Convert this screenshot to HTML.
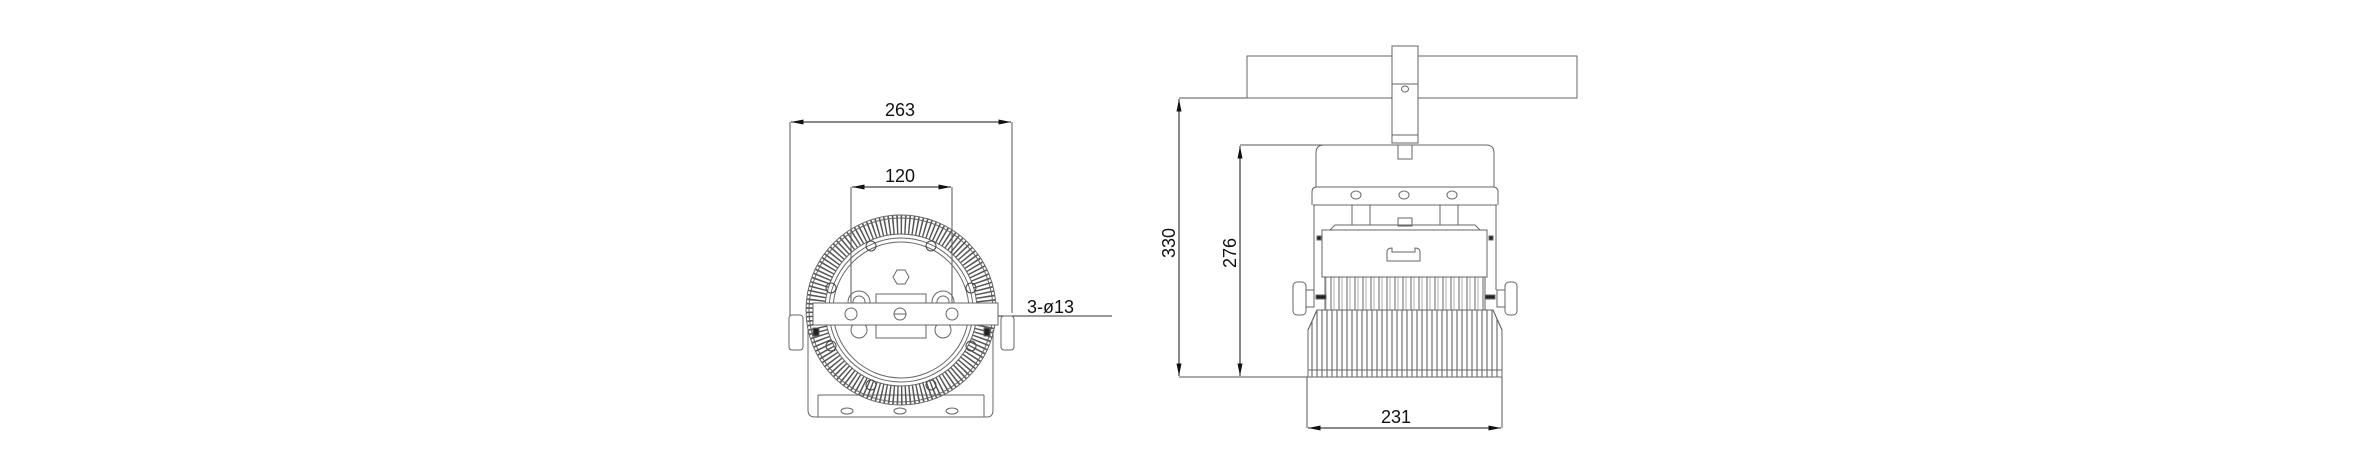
<!DOCTYPE html>
<html><head><style>html,body{margin:0;padding:0;background:#fff;}svg{display:block}</style></head>
<body>
<svg width="2363" height="473" viewBox="0 0 2363 473" xmlns="http://www.w3.org/2000/svg">
<defs>
<marker id="a" viewBox="0 0 10 4" refX="10" refY="2" markerWidth="14" markerHeight="5" orient="auto-start-reverse" markerUnits="userSpaceOnUse"><path d="M0,0L10,2L0,4z" fill="#111"/></marker>
<pattern id="fins" width="5" height="10" patternUnits="userSpaceOnUse"><line x1="2" y1="0" x2="2" y2="10" stroke="#555" stroke-width="1"/></pattern>
<pattern id="fins2" width="8" height="10" patternUnits="userSpaceOnUse"><line x1="3" y1="0" x2="3" y2="10" stroke="#666" stroke-width="1"/><line x1="6" y1="0" x2="6" y2="10" stroke="#888" stroke-width="0.7"/></pattern>
</defs>
<g font-family="Liberation Sans, sans-serif" font-size="18" fill="#111">
<!-- Front view dims -->
<g stroke="#555" stroke-width="1" fill="none">
<line x1="790" y1="122" x2="790" y2="350"/><line x1="1012" y1="122" x2="1012" y2="313"/>
<line x1="851" y1="187" x2="851" y2="313"/><line x1="952" y1="187" x2="952" y2="313"/>
</g>
<line x1="791" y1="122" x2="1011" y2="122" stroke="#111" marker-start="url(#a)" marker-end="url(#a)"/>
<line x1="852" y1="187" x2="951" y2="187" stroke="#111" marker-start="url(#a)" marker-end="url(#a)"/>
<text x="900" y="116" text-anchor="middle">263</text>
<text x="900" y="182" text-anchor="middle">120</text>
<line x1="1112" y1="316" x2="960" y2="316" stroke="#333" marker-end="url(#a)"/>
<text x="1027" y="313">3-ø13</text>

<!-- Front view body -->
<g stroke="#666" stroke-width="1" fill="none">
<path d="M808,330 V410 Q808,417 815,417 H987 Q993,417 993,410 V330"/>
<line x1="818" y1="395" x2="984" y2="395"/>
<line x1="818" y1="395" x2="818" y2="417"/><line x1="984" y1="395" x2="984" y2="417"/>
<ellipse cx="847" cy="411" rx="6" ry="3"/><ellipse cx="900" cy="411" rx="6" ry="3"/><ellipse cx="952" cy="411" rx="6" ry="3"/>
<circle cx="901" cy="310" r="85" stroke="#555" stroke-width="19" stroke-dasharray="1.5 2.5"/>
<circle cx="901" cy="310" r="95"/>
<circle cx="901" cy="310" r="92"/>
<circle cx="901" cy="310" r="76"/>
<circle cx="901" cy="310" r="72"/>
<circle cx="901" cy="310" r="68"/>
<g stroke="#444">
<circle cx="871" cy="246" r="5"/><circle cx="931" cy="246" r="5"/>
<circle cx="831" cy="288" r="5"/><circle cx="971" cy="288" r="5"/>
<circle cx="831" cy="346" r="5"/><circle cx="971" cy="346" r="5"/>
<circle cx="871" cy="385" r="5"/><circle cx="931" cy="385" r="5"/>
</g>
<polygon points="893,277 897,270 905,270 909,277 905,284 897,284"/>
<circle cx="859" cy="302" r="11"/><circle cx="859" cy="302" r="6"/>
<circle cx="943" cy="302" r="11"/><circle cx="943" cy="302" r="6"/>
<rect x="876" y="294" width="50" height="10"/>
<rect x="876" y="322" width="50" height="16"/>
<circle cx="859" cy="330" r="8"/><circle cx="943" cy="330" r="8"/>
<rect x="813" y="303" width="185" height="22" fill="#fff"/>
<circle cx="851" cy="314" r="6"/><circle cx="900" cy="314" r="6"/><line x1="894" y1="314" x2="906" y2="314"/><circle cx="952" cy="314" r="6"/>
<rect x="789" y="315" width="14" height="35" rx="3" fill="#fff"/>
<rect x="1001" y="316" width="13" height="34" rx="3" fill="#fff"/>
<rect x="813" y="328" width="6" height="8" fill="#222"/><rect x="984" y="328" width="6" height="8" fill="#222"/>
</g>

<!-- Side view dims -->
<g stroke="#555" stroke-width="1" fill="none">
<line x1="1179" y1="98" x2="1392" y2="98"/>
<line x1="1240" y1="145" x2="1330" y2="145"/>
<line x1="1179" y1="377" x2="1310" y2="377"/>
<line x1="1307" y1="377" x2="1307" y2="428"/><line x1="1502" y1="377" x2="1502" y2="428"/>
</g>
<line x1="1179" y1="99" x2="1179" y2="376" stroke="#111" marker-start="url(#a)" marker-end="url(#a)"/>
<line x1="1240" y1="146" x2="1240" y2="376" stroke="#111" marker-start="url(#a)" marker-end="url(#a)"/>
<line x1="1308" y1="428" x2="1501" y2="428" stroke="#111" marker-start="url(#a)" marker-end="url(#a)"/>
<text x="1175" y="243" text-anchor="middle" transform="rotate(-90 1175 243)" dy="0">330</text>
<text x="1236" y="253" text-anchor="middle" transform="rotate(-90 1236 253)">276</text>
<text x="1396" y="423" text-anchor="middle">231</text>

<!-- Side view body -->
<g stroke="#666" stroke-width="1" fill="none">
<rect x="1247" y="56" width="330" height="42"/>
<rect x="1392" y="46" width="26" height="97" fill="#fff"/>
<line x1="1392" y1="84" x2="1418" y2="84"/><line x1="1392" y1="135" x2="1418" y2="135"/>
<ellipse cx="1405" cy="89" rx="3.5" ry="3"/>
<rect x="1398" y="145" width="14" height="14"/>
<path d="M1316,187 V153 Q1316,145 1324,145 H1486 Q1494,145 1494,153 V187"/>
<path d="M1312,205 V192 Q1312,187 1317,187 H1493 Q1498,187 1498,192 V205"/>
<ellipse cx="1356" cy="195" rx="5" ry="4"/><ellipse cx="1404" cy="195" rx="5" ry="4"/><ellipse cx="1452" cy="195" rx="5" ry="4"/>
<path d="M1313,205 H1497 M1314,205 V290 M1496,205 V290"/>
<rect x="1352" y="205" width="18" height="20"/><rect x="1440" y="205" width="18" height="20"/>
<rect x="1398" y="218" width="14" height="8"/>
<path d="M1330,230 L1335,225 H1475 L1480,230"/>
<rect x="1322" y="230" width="165" height="47" fill="#fff"/>
<path d="M1387,261 V252 Q1387,248 1392,248 V252 H1415 V248 Q1420,248 1420,252 V261 Z"/>
<rect x="1325" y="277" width="160" height="33" fill="url(#fins2)"/>
<rect x="1325" y="277" width="160" height="33"/>
<path d="M1317,310 H1493 L1502,330 V370 H1308 V330 Z" fill="url(#fins)"/>
<path d="M1317,310 H1493 L1502,330 V370 H1308 V330 Z"/>
<rect x="1308" y="370" width="194" height="7" fill="url(#fins)"/>
<rect x="1308" y="370" width="194" height="7"/>
<rect x="1293" y="282" width="13" height="33" rx="4" fill="#fff"/>
<rect x="1505" y="282" width="12" height="33" rx="4" fill="#fff"/>
<rect x="1306" y="290" width="8" height="17" fill="#fff"/><rect x="1497" y="290" width="8" height="17" fill="#fff"/>
<rect x="1316" y="295" width="10" height="4" fill="#222"/><rect x="1485" y="295" width="10" height="4" fill="#222"/>
<rect x="1317" y="236" width="4" height="4" fill="#222"/><rect x="1489" y="236" width="4" height="4" fill="#222"/>
</g>
</g>
</svg>
</body></html>
